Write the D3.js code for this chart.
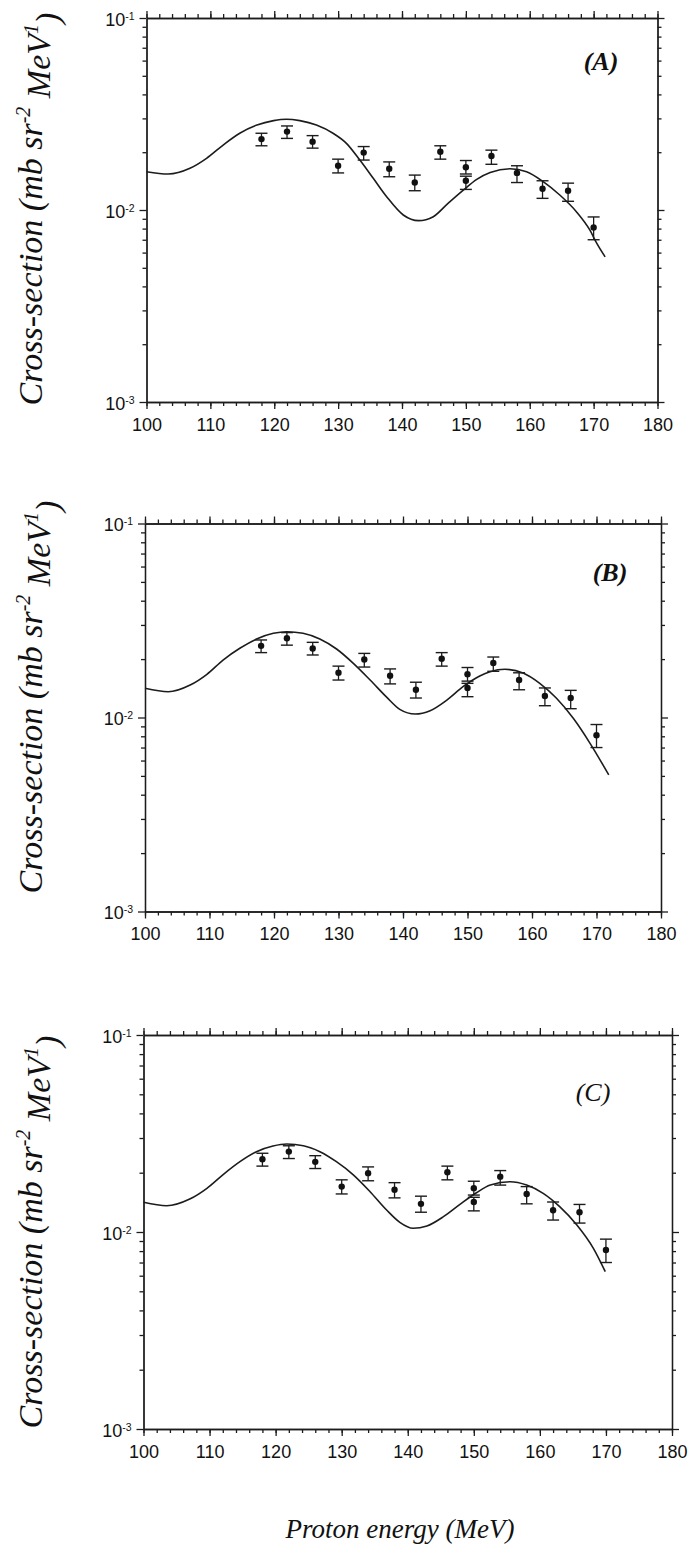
<!DOCTYPE html>
<html lang="en">
<head>
<meta charset="utf-8">
<title>Cross-section vs proton energy</title>
<script src="https://cdn.jsdelivr.net/npm/d3@7"></script>
<style>
  body { margin: 0; background: #fff; }
  svg { display: block; }
  .axis path, .axis line { stroke: #1c1c1c; stroke-width: 1.3; }
  .axis text { font-family: "Liberation Sans", Arial, sans-serif; font-size: 18px; fill: #111; }
  .serif { font-family: "Liberation Serif", "Times New Roman", serif; font-style: italic; fill: #111; }
</style>
</head>
<body>
<svg id="chart" width="692" height="1557"></svg>
<script>
// measured points, same in all three panels
var energy   = [118, 122, 126, 130, 134, 138, 142, 146, 150, 150, 154, 158, 162, 166, 170];
var sigma    = [0.0234, 0.0256, 0.0227, 0.0170, 0.0199, 0.0164, 0.0139, 0.0201, 0.0167, 0.0142, 0.0191, 0.0156, 0.0129, 0.0126, 0.0081];
var sigmaHi  = [0.0251, 0.0274, 0.0244, 0.0184, 0.0214, 0.0178, 0.0152, 0.0216, 0.0181, 0.0150, 0.0205, 0.0170, 0.0142, 0.0138, 0.0092];
var sigmaLo  = [0.0216, 0.0236, 0.0210, 0.0156, 0.0182, 0.0149, 0.0126, 0.0184, 0.0154, 0.0128, 0.0173, 0.0139, 0.0115, 0.0111, 0.0070];

// calculated curves
var curveAEnergy = [100, 103.4, 106.8, 109.4, 112.0, 114.6, 117.3, 119.9, 121.9, 124.0, 126.6, 129.2, 131.3, 133.4, 135.5, 137.6, 140.2, 142.6, 144.9, 147.2, 149.6, 151.7, 153.8, 156.9, 159.5, 162.1, 164.7, 167.3, 169.4, 170.5, 171.8];
var curveASigma  = [0.01583, 0.01540, 0.01649, 0.01858, 0.0218, 0.0251, 0.0277, 0.0292, 0.0297, 0.0292, 0.0277, 0.0251, 0.02225, 0.0182, 0.01463, 0.01173, 0.00942, 0.0088, 0.00923, 0.01083, 0.0127, 0.01445, 0.0157, 0.0164, 0.01583, 0.01405, 0.01197, 0.0098, 0.00787, 0.0067, 0.0057];

var curveBEnergy = [100, 103.6, 107.0, 109.6, 112.1, 114.7, 117.3, 119.9, 122.0, 124.5, 127.1, 129.7, 132.3, 134.9, 137.5, 139.5, 141.9, 144.2, 146.8, 149.3, 151.9, 153.5, 155.8, 158.7, 161.2, 163.8, 166.4, 169.0, 171.9];
var curveBSigma  = [0.01414, 0.01358, 0.0147, 0.0167, 0.01978, 0.02274, 0.02539, 0.02716, 0.02769, 0.02716, 0.02539, 0.02255, 0.01902, 0.01561, 0.0127, 0.01102, 0.01042, 0.01084, 0.0123, 0.01441, 0.01636, 0.01722, 0.01772, 0.0169, 0.015, 0.01256, 0.0099, 0.00736, 0.00506];

var curveCEnergy = [100, 103.5, 107.0, 109.6, 112.1, 114.6, 117.1, 119.6, 121.7, 124.2, 126.7, 129.2, 131.8, 134.3, 136.8, 138.8, 140.8, 142.9, 145.4, 147.9, 150.4, 152.5, 155.5, 158.0, 160.5, 163.0, 165.6, 168.1, 169.9];
var curveCSigma  = [0.01415, 0.0136, 0.0147, 0.01667, 0.01963, 0.02275, 0.02557, 0.02732, 0.02797, 0.02742, 0.02557, 0.02275, 0.01946, 0.01602, 0.01293, 0.01119, 0.01044, 0.01073, 0.01196, 0.01382, 0.01583, 0.01732, 0.018, 0.01732, 0.01572, 0.01345, 0.01085, 0.00826, 0.00629];

var panelLabels = ["(A)", "(B)", "(C)"];
var xMajorTicks = [100, 110, 120, 130, 140, 150, 160, 170, 180];
var yDecades = [1e-3, 1e-2, 1e-1];
var yDecadeExp = ["-3", "-2", "-1"];
var yTitle = "Cross-section (mb sr";
var xTitle = "Proton energy (MeV)";

// frame geometry for each panel (pixels)
var frames = [
  {left: 146.5, right: 657.5, top: 18,   bottom: 402,  labelX: 601, labelY: 70,   bold: true,  titleY: 209},
  {left: 145,   right: 661,   top: 523.5, bottom: 911.5, labelX: 610, labelY: 581, bold: true,  titleY: 697},
  {left: 143.5, right: 672,   top: 1035, bottom: 1429, labelX: 593, labelY: 1101, bold: false, titleY: 1232}
];
var curves = [
  {e: curveAEnergy, s: curveASigma},
  {e: curveBEnergy, s: curveBSigma},
  {e: curveCEnergy, s: curveCSigma}
];

var svg = d3.select("#chart");
svg.append("rect").attr("width", 692).attr("height", 1557).attr("fill", "#fff");

var xMinor = d3.range(100, 181, 2);
var yMinor = [];
yDecades.slice(0, 2).forEach(function(d) {
  for (var k = 2; k <= 9; k++) yMinor.push(d * k);
});

frames.forEach(function(f, i) {
  var x = d3.scaleLinear().domain([100, 180]).range([f.left, f.right]);
  var y = d3.scaleLog().domain([1e-3, 1e-1]).range([f.bottom, f.top]);
  var g = svg.append("g");

  // minor ticks all round
  g.append("g").attr("class", "axis").attr("transform", "translate(0," + f.bottom + ")")
    .call(d3.axisBottom(x).tickValues(xMinor).tickSize(4).tickSizeOuter(0).tickFormat(""));
  g.append("g").attr("class", "axis").attr("transform", "translate(0," + f.top + ")")
    .call(d3.axisTop(x).tickValues(xMinor).tickSize(4).tickSizeOuter(0).tickFormat(""));
  g.append("g").attr("class", "axis").attr("transform", "translate(" + f.left + ",0)")
    .call(d3.axisLeft(y).tickValues(yMinor).tickSize(4).tickSizeOuter(0).tickFormat(""));
  g.append("g").attr("class", "axis").attr("transform", "translate(" + f.right + ",0)")
    .call(d3.axisRight(y).tickValues(yMinor).tickSize(4).tickSizeOuter(0).tickFormat(""));

  // major ticks
  g.append("g").attr("class", "axis").attr("transform", "translate(0," + f.bottom + ")")
    .call(d3.axisBottom(x).tickValues(xMajorTicks).tickSize(7).tickSizeOuter(0).tickPadding(9).tickFormat(d3.format("d")));
  g.append("g").attr("class", "axis").attr("transform", "translate(0," + f.top + ")")
    .call(d3.axisTop(x).tickValues(xMajorTicks).tickSize(7).tickSizeOuter(0).tickFormat(""));
  var yl = g.append("g").attr("class", "axis").attr("transform", "translate(" + f.left + ",0)")
    .call(d3.axisLeft(y).tickValues(yDecades).tickSize(7).tickSizeOuter(0).tickPadding(5).tickFormat(""));
  g.append("g").attr("class", "axis").attr("transform", "translate(" + f.right + ",0)")
    .call(d3.axisRight(y).tickValues(yDecades).tickSize(7).tickSizeOuter(0).tickFormat(""));

  // 10 with superscript exponent
  yl.selectAll(".tick text").each(function(d, j) {
    var t = d3.select(this).attr("dy", "0.4em");
    t.append("tspan").text("10");
    t.append("tspan").attr("dy", "-0.55em").style("font-size", "10.5px").text(yDecadeExp[j]);
  });

  // curve
  var c = curves[i];
  var line = d3.line()
    .x(function(d) { return x(c.e[d]); })
    .y(function(d) { return y(c.s[d]); })
    .curve(d3.curveMonotoneX);
  g.append("path").attr("d", line(d3.range(c.e.length)))
    .attr("fill", "none").attr("stroke", "#1c1c1c").attr("stroke-width", 1.6);

  // error bars + points
  var pts = g.append("g").selectAll("g").data(d3.range(energy.length)).join("g");
  pts.append("line")
    .attr("x1", function(d) { return x(energy[d]); }).attr("x2", function(d) { return x(energy[d]); })
    .attr("y1", function(d) { return y(sigmaHi[d]); }).attr("y2", function(d) { return y(sigmaLo[d]); })
    .attr("stroke", "#1c1c1c").attr("stroke-width", 1.3);
  [sigmaHi, sigmaLo].forEach(function(arr) {
    pts.append("line")
      .attr("x1", function(d) { return x(energy[d]) - 6; }).attr("x2", function(d) { return x(energy[d]) + 6; })
      .attr("y1", function(d) { return y(arr[d]); }).attr("y2", function(d) { return y(arr[d]); })
      .attr("stroke", "#1c1c1c").attr("stroke-width", 1.4);
  });
  pts.append("circle")
    .attr("cx", function(d) { return x(energy[d]); })
    .attr("cy", function(d) { return y(sigma[d]); })
    .attr("r", 3.2).attr("fill", "#111");

  // panel label
  svg.append("text").attr("class", "serif")
    .attr("x", f.labelX).attr("y", f.labelY).attr("text-anchor", "middle")
    .style("font-size", "26px").style("font-weight", f.bold ? "bold" : "normal")
    .text(panelLabels[i]);

  // y title
  var yt = svg.append("text").attr("class", "serif")
    .attr("transform", "translate(42," + f.titleY + ") rotate(-90)")
    .attr("text-anchor", "middle").style("font-size", "34px");
  yt.append("tspan").text(yTitle);
  yt.append("tspan").attr("dy", "-0.6em").style("font-size", "20px").text("-2");
  yt.append("tspan").attr("dy", "0.6em").text(" MeV");
  yt.append("tspan").attr("dy", "-0.6em").style("font-size", "20px").text("1");
  yt.append("tspan").attr("dy", "0.6em").text(")");
});

svg.append("text").attr("class", "serif")
  .attr("x", 400).attr("y", 1538).attr("text-anchor", "middle")
  .style("font-size", "27px").text(xTitle);
</script>
</body>
</html>
